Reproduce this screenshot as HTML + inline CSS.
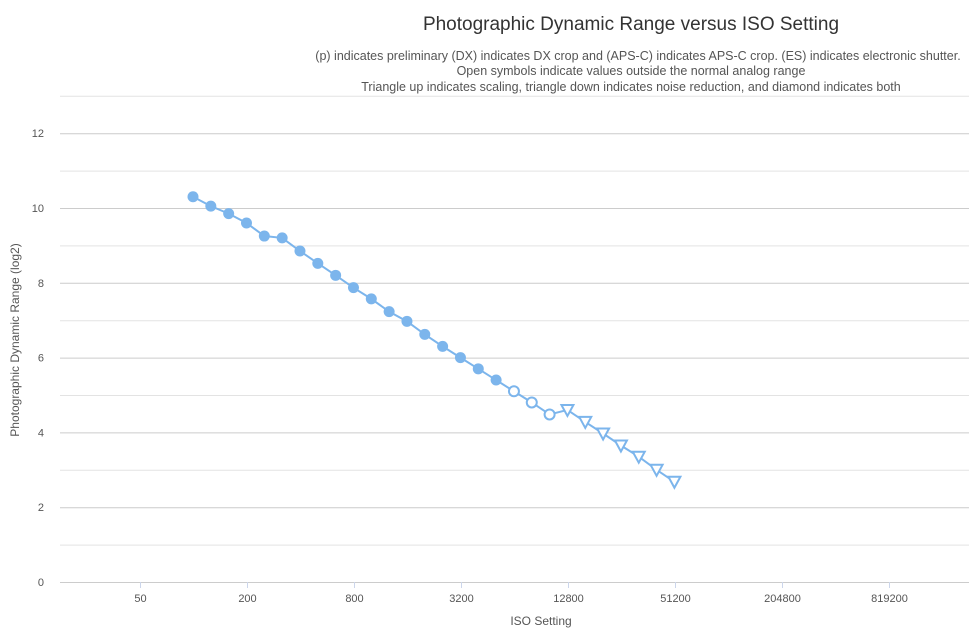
<!DOCTYPE html>
<html><head><meta charset="utf-8"><style>
html,body{margin:0;padding:0;background:#fff;}
svg{display:block;font-family:"Liberation Sans","DejaVu Sans",sans-serif;}
</style></head><body>
<svg id="s" width="969" height="633" viewBox="0 0 969 633" xmlns="http://www.w3.org/2000/svg">
<text x="631" y="30" text-anchor="middle" font-size="19" fill="#333">Photographic Dynamic Range versus ISO Setting</text>
<text x="638" y="60" text-anchor="middle" font-size="12.5" fill="#555">(p) indicates preliminary (DX) indicates DX crop and (APS-C) indicates APS-C crop. (ES) indicates electronic shutter.</text>
<text x="631" y="75" text-anchor="middle" font-size="12.5" fill="#555">Open symbols indicate values outside the normal analog range</text>
<text x="631" y="91" text-anchor="middle" font-size="12.5" fill="#555">Triangle up indicates scaling, triangle down indicates noise reduction, and diamond indicates both</text>
<g id="grid"></g>
<text transform="translate(19,340) rotate(-90)" text-anchor="middle" font-size="12" fill="#555">Photographic Dynamic Range (log2)</text>
<text x="541" y="625" text-anchor="middle" font-size="12" fill="#555">ISO Setting</text>
<g id="data"></g>
</svg>
<script>
var ns="http://www.w3.org/2000/svg";
function el(p,t,a,txt){var e=document.createElementNS(ns,t);for(var k in a)e.setAttribute(k,a[k]);if(txt!=null)e.textContent=txt;p.appendChild(e);return e;}
var g=document.getElementById('grid');
function Y(v){return 582-v*37.4;}
for(var v=0;v<=13;v++){var y=Y(v)+0.5;el(g,'line',{x1:60,x2:969,y1:y,y2:y,stroke:v%2?'#e3e3e3':'#cccccc','stroke-width':1});
 if(v%2==0&&v<=12)el(g,'text',{x:44,y:Y(v)+4,'text-anchor':'end','font-size':11,fill:'#555'},v);}
var xl=[50,200,800,3200,12800,51200,204800,819200];
for(var i=0;i<xl.length;i++){var x=140.5+107*i;el(g,'line',{x1:x,x2:x,y1:582,y2:588,stroke:'#ccd6eb'});el(g,'text',{x:x,y:602,'text-anchor':'middle','font-size':11,fill:'#555'},xl[i]);}
var ys=[10.3,10.05,9.85,9.6,9.25,9.2,8.85,8.52,8.2,7.87,7.57,7.23,6.97,6.62,6.3,6.0,5.7,5.4,5.1,4.8,4.48,4.6,4.28,3.97,3.65,3.35,3.0,2.68];
var d=document.getElementById('data'),pts=[];
for(var i=0;i<ys.length;i++)pts.push([193+i*17.83,Y(ys[i])]);
el(d,'polyline',{points:pts.map(function(p){return p.join(',')}).join(' '),fill:'none',stroke:'#7cb5ec','stroke-width':2});
for(var i=0;i<pts.length;i++){var x=pts[i][0],y=pts[i][1];
 if(i<18)el(d,'circle',{cx:x,cy:y,r:5.5,fill:'#7cb5ec'});
 else if(i<21)el(d,'circle',{cx:x,cy:y,r:5,fill:'#fff',stroke:'#7cb5ec','stroke-width':2});
 else el(d,'polygon',{points:(x-6)+','+(y-5)+' '+(x+6)+','+(y-5)+' '+x+','+(y+6),fill:'#fff',stroke:'#7cb5ec','stroke-width':2});}
</script>
</body></html>
